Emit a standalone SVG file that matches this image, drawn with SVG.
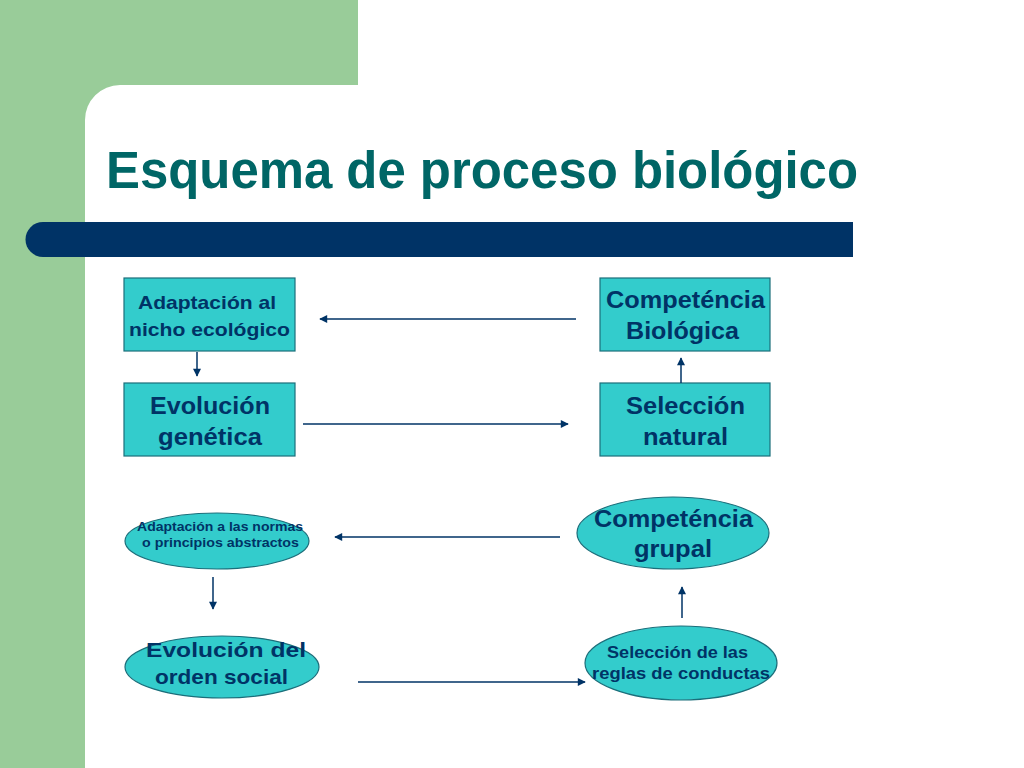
<svg xmlns="http://www.w3.org/2000/svg" width="1024" height="768" viewBox="0 0 1024 768">
<defs>
<style>
.bx{fill:#33CCCC;stroke:#1B6E7A;stroke-width:1.2}
.t{font-family:"Liberation Sans",Arial,sans-serif;font-weight:bold;fill:#003366;text-anchor:middle}
.c{stroke:#003366;stroke-width:1.5;fill:none;marker-end:url(#ah)}
</style>
<marker id="ah" viewBox="0 0 10 10" refX="9" refY="5" markerWidth="9" markerHeight="8" orient="auto" markerUnits="userSpaceOnUse"><path d="M0,0 L10,5 L0,10 z" fill="#003366"/></marker>
</defs>
<rect width="1024" height="768" fill="#ffffff"/>
<path d="M0,0 H358 V85 H120 A35,35 0 0 0 85,120 V768 H0 Z" fill="#99CC99"/>
<text x="106" y="188" font-family="Liberation Sans,Arial,sans-serif" font-weight="bold" font-size="51" fill="#006666" textLength="752" lengthAdjust="spacingAndGlyphs">Esquema de proceso biológico</text>
<path d="M43,222 H853 V257 H43 A17.5,17.5 0 0 1 43,222 Z" fill="#003366"/>
<g id="n1"><rect class="bx" x="124" y="278" width="171" height="73"/><text class="t" font-size="18.5"><tspan x="207" y="309" textLength="138" lengthAdjust="spacingAndGlyphs">Adaptación al</tspan><tspan x="209.5" y="336" textLength="161" lengthAdjust="spacingAndGlyphs">nicho ecológico</tspan></text></g>
<g id="n2"><rect class="bx" x="124" y="383" width="171" height="73"/><text class="t" font-size="23"><tspan x="210" y="414" textLength="120" lengthAdjust="spacingAndGlyphs">Evolución</tspan><tspan x="210" y="445" textLength="104" lengthAdjust="spacingAndGlyphs">genética</tspan></text></g>
<g id="n3"><rect class="bx" x="600" y="278" width="170" height="73"/><text class="t" font-size="23"><tspan x="685.5" y="308" textLength="159" lengthAdjust="spacingAndGlyphs">Competéncia</tspan><tspan x="682.5" y="339" textLength="113" lengthAdjust="spacingAndGlyphs">Biológica</tspan></text></g>
<g id="n4"><rect class="bx" x="600" y="383" width="170" height="73"/><text class="t" font-size="23"><tspan x="685.5" y="414" textLength="119" lengthAdjust="spacingAndGlyphs">Selección</tspan><tspan x="685.5" y="445" textLength="85" lengthAdjust="spacingAndGlyphs">natural</tspan></text></g>
<g id="n5"><ellipse class="bx" cx="217" cy="541" rx="92" ry="28"/><text class="t" font-size="13.5"><tspan x="220" y="531" textLength="166" lengthAdjust="spacingAndGlyphs">Adaptación a las normas</tspan><tspan x="220.5" y="547" textLength="157" lengthAdjust="spacingAndGlyphs">o principios abstractos</tspan></text></g>
<g id="n6"><ellipse class="bx" cx="673" cy="533" rx="96" ry="36"/><text class="t" font-size="23"><tspan x="673.5" y="527" textLength="159" lengthAdjust="spacingAndGlyphs">Competéncia</tspan><tspan x="673" y="557" textLength="78" lengthAdjust="spacingAndGlyphs">grupal</tspan></text></g>
<g id="n7"><ellipse class="bx" cx="222" cy="667" rx="97" ry="31"/><text class="t" font-size="21"><tspan x="226" y="657" textLength="160" lengthAdjust="spacingAndGlyphs">Evolución del</tspan><tspan x="221.5" y="684" textLength="133" lengthAdjust="spacingAndGlyphs">orden social</tspan></text></g>
<g id="n8"><ellipse class="bx" cx="681" cy="663" rx="96" ry="37"/><text class="t" font-size="16.5"><tspan x="677.5" y="658" textLength="141" lengthAdjust="spacingAndGlyphs">Selección de las</tspan><tspan x="681" y="679" textLength="178" lengthAdjust="spacingAndGlyphs">reglas de conductas</tspan></text></g>
<g id="connectors">
<line class="c" x1="576" y1="319" x2="320" y2="319"/>
<line class="c" x1="197" y1="352" x2="197" y2="376"/>
<line class="c" x1="303" y1="424" x2="568" y2="424"/>
<line class="c" x1="681" y1="383" x2="681" y2="358"/>
<line class="c" x1="560" y1="537" x2="335" y2="537"/>
<line class="c" x1="213" y1="577" x2="213" y2="609"/>
<line class="c" x1="682" y1="618" x2="682" y2="587"/>
<line class="c" x1="358" y1="682" x2="585" y2="682"/>
</g>
</svg>
